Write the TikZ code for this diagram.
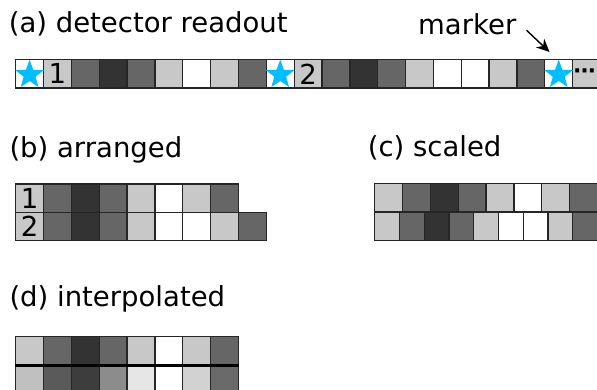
\documentclass[tikz,border=0pt]{standalone}
\usepackage{fontspec}
\setmainfont{DejaVu Sans}
\usetikzlibrary{shapes.geometric,arrows.meta}
\definecolor{lg}{HTML}{C8C8C8}
\definecolor{mg}{HTML}{666666}
\definecolor{dg}{HTML}{333333}
\definecolor{ia}{HTML}{C0C0C0}
\definecolor{ib}{HTML}{5A5A5A}
\definecolor{ic}{HTML}{3D3D3D}
\definecolor{id}{HTML}{8C8C8C}
\definecolor{ie}{HTML}{E6E6E6}
\definecolor{ig}{HTML}{D2D2D2}
\definecolor{ih}{HTML}{6A6A6A}
\definecolor{starblue}{RGB}{0,190,255}
\tikzset{
  cell/.style={draw=black!85, line width=1.3pt, minimum width=27.85pt, minimum height=28.3pt,
    inner sep=0pt, anchor=north west},
  scell/.style={cell, minimum width=24.76pt},
  num/.style={inner sep=0pt, font=\fontsize{27.5}{30}\selectfont},
  lbl/.style={anchor=base west, inner sep=0pt, font=\fontsize{27.5}{30}\selectfont},
  starmark/.style={star, star points=5, star point ratio=2.4, fill=starblue, draw=none,
    minimum size=30pt, inner sep=0pt, outer sep=0pt},
  pointer/.style={line width=1.4pt, -{Stealth[length=13pt,width=12pt]}}
}
\begin{document}
\begin{tikzpicture}[x=1pt,y=-1pt]
\useasboundingbox (0,0) rectangle (597,390);
% (a) detector readout
\node[lbl] (la) at (8.6,33) {(a) detector readout};
\foreach \c [count=\i from 0] in {white,lg,mg,dg,mg,lg,white,lg,mg,white,lg,mg,dg,mg,lg,white,white,lg,mg,white,lg}
  \node[cell, fill=\c] (a\i) at ({15+\i*27.85},59) {};
\node[num] (an1) at (a1) {1};
\node[num] (an2) at (a10) {2};
\node[starmark] (s1) at ([yshift=-1pt]a0.center) {};
\node[starmark] (s2) at ([yshift=-1pt]a9.center) {};
\node[starmark] (s3) at ([yshift=-1pt]a19.center) {};
\node[inner sep=0pt, font=\bfseries\fontsize{22}{24}\selectfont] (dots) at ([xshift=-2pt]a20.center) {⋯};
\node[lbl] (marker) at (418,35) {marker};
\coordinate (mtip) at (549.5,52);
\draw[pointer] ([shift={(10pt,-5.5pt)}]marker.east) -- (mtip);
% (b) arranged
\node[lbl] (lb) at (9.3,158) {(b) arranged};
\foreach \c [count=\i from 0] in {lg,mg,dg,mg,lg,white,lg,mg}
  \node[cell, fill=\c] (b1\i) at ({15+\i*27.85},183.3) {};
\foreach \c [count=\i from 0] in {lg,mg,dg,mg,lg,white,white,lg,mg}
  \node[cell, fill=\c] (b2\i) at ({15+\i*27.85},211.6) {};
\node[num] (bn1) at (b10) {1};
\node[num] (bn2) at (b20) {2};
% (c) scaled
\node[lbl] (lc) at (367.6,157) {(c) scaled};
\foreach \c [count=\i from 0] in {lg,mg,dg,mg,lg,white,lg,mg}
  \node[cell, fill=\c] (c1\i) at ({374+\i*27.85},183) {};
\foreach \c [count=\i from 0] in {lg,mg,dg,mg,lg,white,white,lg,mg}
  \node[scell, fill=\c] (c2\i) at ({374+\i*24.76},211.6) {};
% (d) interpolated
\node[lbl] (ld) at (9.3,306.5) {(d) interpolated};
\foreach \c [count=\i from 0] in {lg,mg,dg,mg,lg,white,lg,mg}
  \node[cell, fill=\c] (d1\i) at ({15+\i*27.85},335.7) {};
\foreach \c [count=\i from 0] in {ia,ib,ic,id,ie,white,ig,ih}
  \node[cell, fill=\c] (d2\i) at ({15+\i*27.85},364) {};
\draw[line width=2.6pt, black] (d10.south west) -- (d17.south east);
\end{tikzpicture}
\end{document}
